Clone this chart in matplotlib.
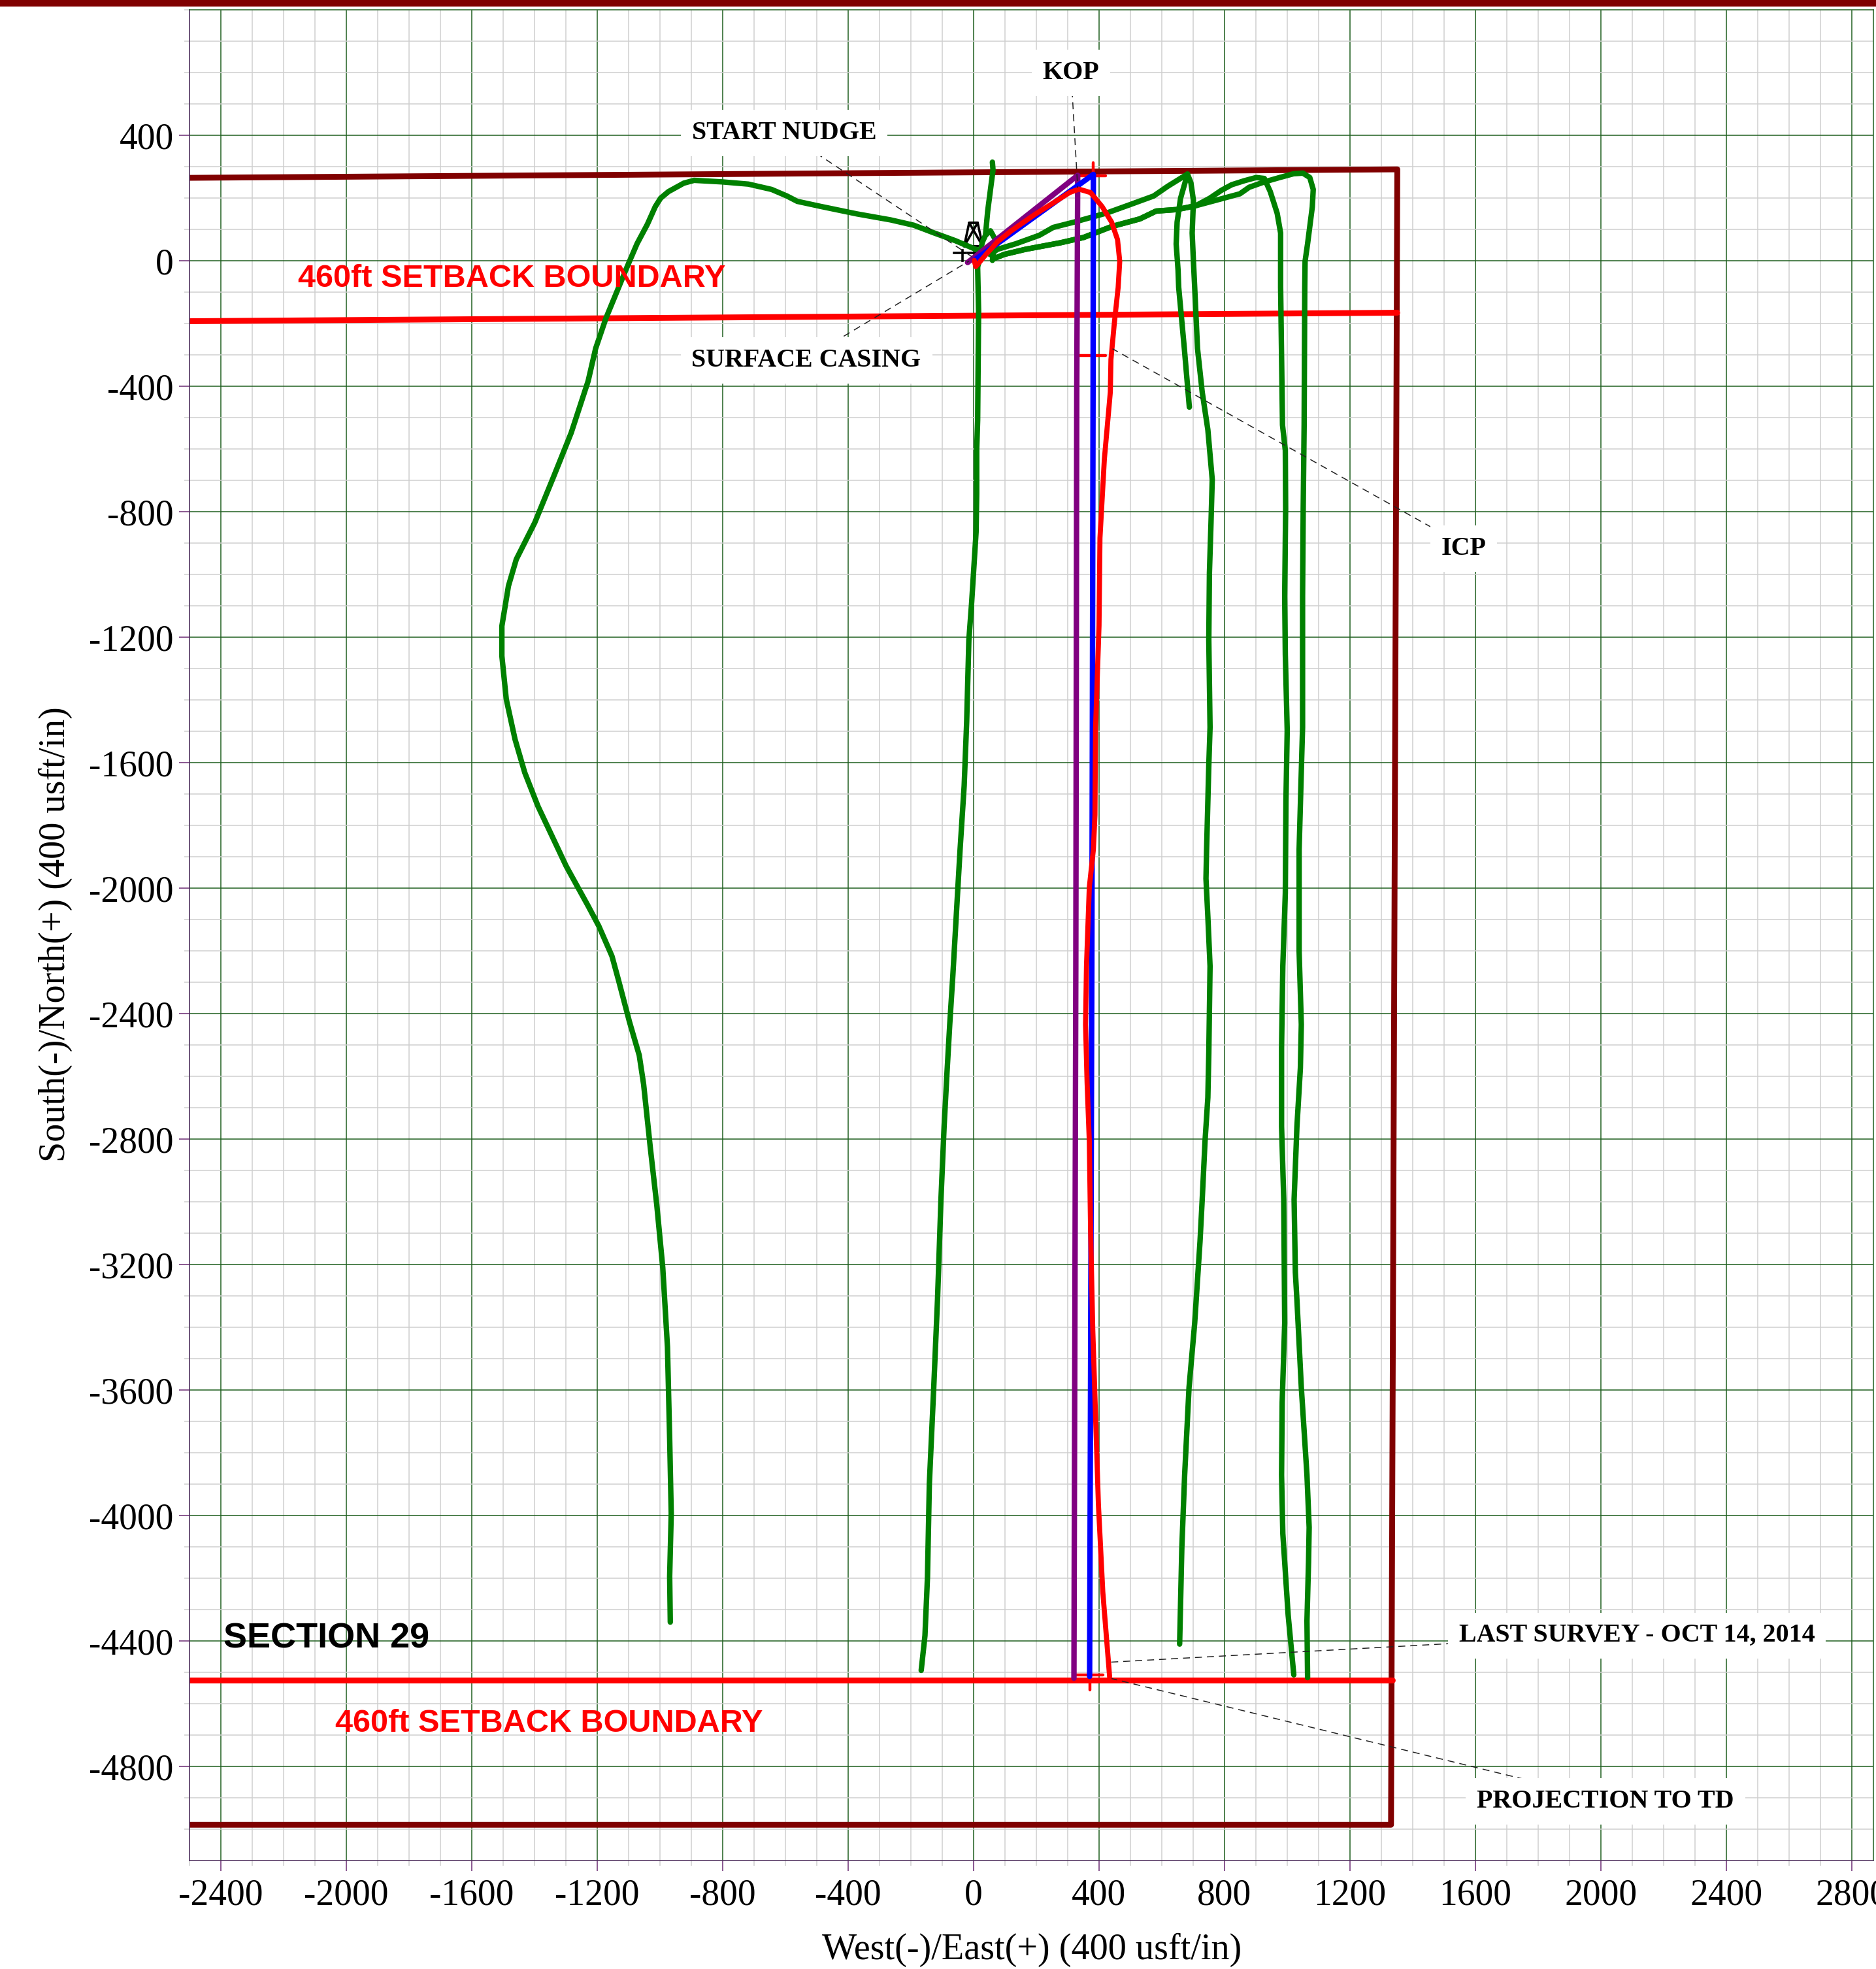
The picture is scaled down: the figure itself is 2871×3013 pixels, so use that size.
import matplotlib
matplotlib.use('Agg')
import matplotlib.pyplot as plt
from matplotlib.patches import Rectangle

plt.rcParams['font.family'] = ['Liberation Serif', 'DejaVu Serif']
plt.rcParams['axes.unicode_minus'] = False

x_ticks = [-2400, -2000, -1600, -1200, -800, -400, 0, 400, 800, 1200, 1600, 2000, 2400, 2800]
y_ticks = [400, 0, -400, -800, -1200, -1600, -2000, -2400, -2800, -3200, -3600, -4000, -4400, -4800]

# lease lines
section_x = [-2500, 1351, 1331, -2500]
section_y = [265, 292, -4985, -4985]
setback_top_x = [-2500, 1351]
setback_top_y = [-192, -165]
setback_bot_x = [-2500, 1335]
setback_bot_y = [-4523, -4523]

# offset wells (green)
well1_x = [13, 31, -59, -125, -191, -265, -372, -488, -562, -595, -644, -718, -801, -891, -924, -973, -998, -1015,
           -1040, -1073, -1106, -1172, -1205, -1229, -1283, -1340, -1399, -1458, -1483, -1504, -1504, -1490, -1462,
           -1431, -1389, -1299, -1229, -1195, -1153, -1132, -1097, -1066, -1052, -1031, -1010, -991, -976, -969,
           -964, -969, -967]
well1_y = [-15, 27, 65, 89, 114, 131, 150, 174, 190, 207, 228, 245, 252, 257, 248, 221, 200, 173,
           117, 55, -22, -182, -279, -383, -548, -690, -834, -951, -1036, -1164, -1259, -1397, -1525,
           -1631, -1738, -1929, -2056, -2120, -2216, -2293, -2426, -2532, -2625, -2824, -3010, -3209, -3462, -3754,
           -3993, -4193, -4339]

well2_x = [60, 62, 45, 38, 28, 15, 13, 16, 13, 10, 10, 8, -6, -15, -22, -30, -43, -50, -66, -76, -85, -94, -104, -111,
           -115, -127, -141, -147, -155, -167]
well2_y = [315, 290, 159, 82, 60, 0, -22, -161, -508, -600, -743, -864, -1087, -1208, -1469, -1673, -1876, -1997, -2276,
           -2434, -2592, -2760, -2992, -3197, -3312, -3591, -3898, -4196, -4382, -4493]

well2b_x = [38, 54, 71, 62, 60]
well2b_y = [82, 96, 65, 20, 2]

well3_x = [53, 76, 135, 210, 254, 321, 425, 500, 574, 619, 682, 660, 649, 646, 652, 654, 672, 688]
well3_y = [20, 37, 55, 82, 107, 124, 153, 180, 207, 238, 277, 200, 124, 54, -29, -84, -279, -466]

well4_x = [682, 693, 701, 697, 701, 705, 714, 729, 747, 761, 757, 752, 750, 754, 750, 743, 741, 747, 754, 750, 747, 738,
           729, 722, 705, 687, 673, 664, 657]
well4_y = [277, 249, 193, 89, -1, -84, -279, -418, -538, -697, -836, -994, -1208, -1487, -1608, -1876, -1969, -2090,
           -2248, -2527, -2667, -2806, -2992, -3126, -3386, -3591, -3870, -4103, -4409]

well5_x = [61, 98, 165, 277, 351, 441, 530, 582, 649, 708, 753, 790, 823, 864, 901, 927, 946, 968, 979, 979, 985, 994,
           995, 992, 994, 1000, 996, 994, 986, 982, 982, 989, 992, 984, 982, 986, 1003, 1021]
well5_y = [6, 21, 37, 58, 75, 110, 134, 159, 164, 176, 200, 225, 243, 256, 266, 263, 221, 152, 89, -84, -523, -604,
           -790, -1069, -1255, -1497, -1720, -2015, -2248, -2508, -2759, -2992, -3386, -3638, -3870, -4056, -4316, -4507]

well6_x = [61, 98, 165, 277, 351, 441, 530, 582, 649, 708, 797, 849, 879, 927, 976, 1020, 1050, 1072, 1083, 1080, 1065,
           1057, 1056, 1054, 1051, 1049, 1049, 1045, 1038, 1038, 1045, 1042, 1031, 1022, 1026, 1031, 1045, 1063, 1070,
           1068, 1063, 1065]
well6_y = [6, 21, 37, 58, 75, 110, 134, 159, 164, 176, 200, 214, 235, 252, 266, 278, 280, 266, 228, 172, 55,
           -1, -84, -521, -790, -1069, -1487, -1627, -1876, -2201, -2434, -2573, -2759, -2992, -3224, -3312, -3591,
           -3870, -4037, -4149, -4335, -4516]

# planned lines and actual well
purple_x = [-19, 332, 329, 326, 320]
purple_y = [-5, 273, -418, -2248, -4518]
blue_x = [2, 382, 381, 377, 370]
blue_y = [2, 276, -418, -2300, -4512]
red_x = [2, 7, 39, 76, 120, 195, 262, 306, 336, 373, 410, 440, 459, 466, 461, 449, 438, 436, 417, 403, 400, 389, 387,
         382, 369, 360, 357, 362, 369, 373, 380, 389, 398, 412, 434]
red_y = [2, -18, 20, 61, 96, 148, 190, 218, 229, 218, 173, 124, 68, -1, -84, -196, -314, -418, -632, -883, -1162,
         -1487, -1766, -1876, -1997, -2248, -2434, -2620, -2806, -3085, -3405, -3684, -3963, -4242, -4516]

# small target marks
mark_x = [337, 422]
mark_top_y = [271, 271]
mark_icp_y = [-302, -302]
mark_bot_x = [323, 413]
mark_bot_y = [-4508, -4508]
mark_top_vx = [382, 382]
mark_top_vy = [314, 271]
mark_bot_vx = [370, 370]
mark_bot_vy = [-4508, -4555]

# rig symbol at the surface location
rig_x = [-30, -14, 13, 29, -30, 13, -14, 29]
rig_y = [47, 122, 122, 47, 47, 122, 122, 47]
rig_post_x = [-35, -35]
rig_post_y = [33, 0]
rig_bar_x = [-62, 23]
rig_bar_y = [25, 25]

labels = ['START NUDGE', 'SURFACE CASING', 'KOP', 'ICP', 'LAST SURVEY - OCT 14, 2014', 'PROJECTION TO TD']
label_x = [-604, -533, 310, 1563, 2115, 2015]
label_y = [408, -317, 599, -917, -4382, -4911]
lead_x0 = [-502, -414, 314, 1460, 1529, 1756]
lead_y0 = [344, -240, 544, -849, -4407, -4840]
lead_x1 = [0, -14, 332, 443, 431, 440]
lead_y1 = [10, 0, 233, -280, -4467, -4519]

DARKRED = '#800000'
GREEN = '#008000'

fig = plt.figure(figsize=(28.71, 30.13), dpi=100)
ax = fig.add_axes([290 / 2871, 1 - 2847 / 3013, (2867 - 290) / 2871, (2847 - 15.3) / 3013])
fig.add_artist(Rectangle((0, 1 - 10 / 3013), 1, 10 / 3013, transform=fig.transFigure, color=DARKRED, lw=0))

ax.set_xlim(-2500, 2869)
ax.set_ylim(-5099, 800)
ax.set_xticks(x_ticks)
ax.set_yticks(y_ticks)
ax.set_xticks(range(-2500, 2870, 100), minor=True)
ax.set_yticks(range(-5000, 801, 100), minor=True)
ax.set_axisbelow(True)
ax.grid(True, which='minor', color='#cfcfcf', lw=1.1)
ax.grid(True, which='major', color='#1f5f1f', lw=1.1)
ax.tick_params(which='major', length=11.5, width=1.1, color='#6a2a72', labelsize=40)
ax.tick_params(axis='x', which='major', pad=8)
ax.tick_params(axis='y', which='major', pad=6)
ax.tick_params(which='minor', length=6, width=1.1, color='#cfcfcf')
for side in ['left', 'bottom']:
    ax.spines[side].set_color('#4a2a5a')
    ax.spines[side].set_linewidth(1.1)
for side in ['top', 'right']:
    ax.spines[side].set_color('#1f5f1f')
    ax.spines[side].set_linewidth(1.1)

fig.text(1579 / 2871, 1 - 2984 / 3013, 'West(-)/East(+) (400 usft/in)', fontsize=40.5, ha='center', va='center')
fig.text(85 / 2871, 1 - 1430 / 3013, 'South(-)/North(+) (400 usft/in)', fontsize=40.5, ha='center', va='center',
         rotation=90)

line_style = dict(solid_capstyle='round', solid_joinstyle='round')
ax.plot(section_x, section_y, color=DARKRED, lw=6.4, zorder=2, **line_style)
ax.plot(setback_top_x, setback_top_y, color='red', lw=6.4, zorder=2.1, **line_style)
ax.plot(setback_bot_x, setback_bot_y, color='red', lw=6.4, zorder=2.1, **line_style)

for wx, wy in [(well1_x, well1_y), (well2_x, well2_y), (well2b_x, well2b_y), (well3_x, well3_y),
               (well4_x, well4_y), (well5_x, well5_y), (well6_x, well6_y)]:
    ax.plot(wx, wy, color=GREEN, lw=6, zorder=3, **line_style)

ax.plot(rig_x, rig_y, color='black', lw=2.6, zorder=2.9)
ax.plot(rig_post_x, rig_post_y, color='black', lw=2.6, zorder=2.9)
ax.plot(rig_bar_x, rig_bar_y, color='black', lw=2.6, zorder=2.9)

ax.plot(purple_x, purple_y, color='purple', lw=6, zorder=3.5, **line_style)
ax.plot(blue_x, blue_y, color='blue', lw=6, zorder=3.6, **line_style)
ax.plot(mark_x, mark_top_y, color='red', lw=3.2, zorder=3.4, **line_style)
ax.plot(mark_x, mark_icp_y, color='red', lw=3.2, zorder=3.4, **line_style)
ax.plot(mark_bot_x, mark_bot_y, color='red', lw=3.2, zorder=3.4, **line_style)
ax.plot(mark_top_vx, mark_top_vy, color='red', lw=3.2, zorder=3.4, **line_style)
ax.plot(mark_bot_vx, mark_bot_vy, color='red', lw=3.2, zorder=3.4, **line_style)
ax.plot(red_x, red_y, color='red', lw=5.6, zorder=3.8, **line_style)

for i in range(len(labels)):
    ax.plot([lead_x0[i], lead_x1[i]], [lead_y0[i], lead_y1[i]], color='#222222', lw=1.1, ls=(0, (7, 5)), zorder=5)
    ax.text(label_x[i], label_y[i], labels[i], fontsize=28.8, fontweight='bold', ha='center', va='center', zorder=6,
            bbox=dict(facecolor='white', edgecolor='none', pad=12))

ax.text(-1473, -57, '460ft SETBACK BOUNDARY', color='red', fontsize=35, fontweight='bold',
        family='Liberation Sans', ha='center', va='center', zorder=6)
ax.text(-1354, -4662, '460ft SETBACK BOUNDARY', color='red', fontsize=35, fontweight='bold',
        family='Liberation Sans', ha='center', va='center', zorder=6)
ax.text(-2063, -4392, 'SECTION 29', color='black', fontsize=38.9, fontweight='bold',
        family='Liberation Sans', ha='center', va='center', zorder=6)

plt.savefig('out.png', dpi=100)
